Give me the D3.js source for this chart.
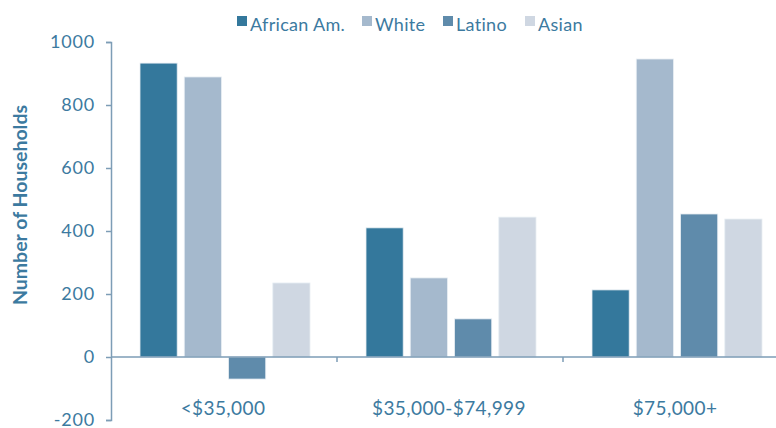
<!DOCTYPE html>
<html>
<head>
<meta charset="utf-8">
<script src="https://cdn.jsdelivr.net/npm/d3@7"></script>
<style>
  body { margin: 0; background: #fff; }
  text { font-family: Lato, "Open Sans", sans-serif; fill: #3c7aa0; }
</style>
</head>
<body>
<div id="chart"></div>
<script>
// data
var categories = ["<$35,000", "$35,000-$74,999", "$75,000+"];
var groups = ["African Am.", "White", "Latino", "Asian"];
var africanAm = [933, 410, 213];
var white = [889, 251, 946];
var latino = [-70, 121, 454];
var asian = [235, 444, 438];
var yTicks = [-200, 0, 200, 400, 600, 800, 1000];

var colors = ["#34789c", "#a5b9cd", "#5f8bab", "#cfd7e2"];

var width = 776, height = 428;

var svg = d3.select("#chart")
  .append("svg")
    .attr("width", width)
    .attr("height", height);

var table = categories.map(function(c, i) {
  return {cat: c, values: [africanAm[i], white[i], latino[i], asian[i]]};
});

//scales
var x = d3.scaleBand()
  .domain(categories)
  .range([111, 789]);

var x1 = d3.scaleBand()
  .domain(groups)
  .range([29, x.bandwidth() - 27])
  .paddingInner(0.16)
  .paddingOuter(0);

var y = d3.scaleLinear()
  .domain([-200, 1000])
  .range([420, 42]);

var z = d3.scaleOrdinal().domain(groups).range(colors);

//bars
svg.append("g")
  .selectAll("g")
  .data(table)
  .enter().append("g")
    .attr("transform", function(d) { return "translate(" + x(d.cat) + ",0)"; })
  .selectAll("rect")
  .data(function(d) { return groups.map(function(g, j) { return {key: g, value: d.values[j]}; }); })
  .enter().append("rect")
    .attr("x", function(d) { return x1(d.key); })
    .attr("y", function(d) { return y(Math.max(0, d.value)); })
    .attr("width", x1.bandwidth())
    .attr("height", function(d) { return Math.abs(y(d.value) - y(0)); })
    .attr("fill", function(d) { return z(d.key); })
    .attr("stroke", "#e8eef3")
    .attr("stroke-width", 0.8);

//y axis
var yAxis = svg.append("g")
  .attr("transform", "translate(111,0)")
  .call(d3.axisLeft(y).tickValues(yTicks).tickSize(5).tickPadding(11).tickFormat(function(d) { return d < 0 ? "-" + (-d) : d; }));
yAxis.select(".domain").attr("stroke", "#7d9db6").attr("stroke-width", 1.5);
yAxis.selectAll(".tick line").attr("stroke", "#7d9db6").attr("stroke-width", 1.5);
yAxis.selectAll(".tick text")
  .style("font-size", "18px")
  .style("letter-spacing", "0.8px")
  .style("font-family", "Lato, 'Open Sans', sans-serif")
  .attr("fill", "#3c7aa0");

//zero line acting as x axis
svg.append("line")
  .attr("x1", 111).attr("x2", 789)
  .attr("y1", y(0)).attr("y2", y(0))
  .attr("stroke", "#7d9db6")
  .attr("stroke-width", 1.5);

// category boundary ticks
svg.selectAll(".sep")
  .data(categories.slice(1))
  .enter().append("line")
    .attr("x1", function(d) { return x(d); })
    .attr("x2", function(d) { return x(d); })
    .attr("y1", y(0))
    .attr("y2", y(0) + 5)
    .attr("stroke", "#7d9db6")
    .attr("stroke-width", 1.5);

// category labels
svg.selectAll(".cat")
  .data(categories)
  .enter().append("text")
    .attr("x", function(d) { return x(d) + x.bandwidth() / 2 - 1; })
    .attr("y", 415)
    .style("text-anchor", "middle")
    .style("font-size", "19px")
    .style("letter-spacing", "0.4px")
    .text(function(d) { return d; });

// y title
svg.append("text")
  .attr("transform", "translate(27," + 205 + "), rotate(-90)")
  .style("text-anchor", "middle")
  .style("font-size", "19.5px")
  .style("font-weight", "bold")
  .text("Number of Households");

// legend
var legendX = [237, 362, 443, 525];
var legend = svg.append("g")
  .selectAll("g")
  .data(groups)
  .enter().append("g")
    .attr("transform", function(d, i) { return "translate(" + legendX[i] + ",0)"; });
legend.append("rect")
  .attr("x", 0).attr("y", 16)
  .attr("width", 10).attr("height", 10)
  .attr("fill", function(d) { return z(d); });
legend.append("text")
  .attr("x", 13).attr("y", 30.5)
  .style("font-size", "18px")
  .style("letter-spacing", "0.3px")
  .text(function(d) { return d; });
</script>
</body>
</html>
